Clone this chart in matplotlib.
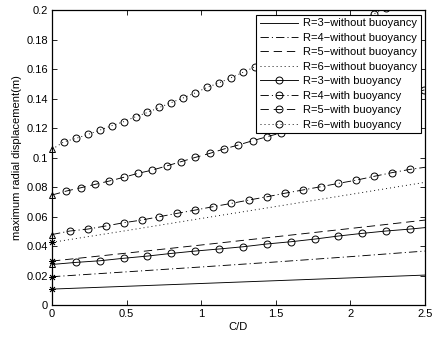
import matplotlib
matplotlib.use('Agg')
import matplotlib.pyplot as plt

plt.rcParams['font.family'] = ['Liberation Sans', 'DejaVu Sans']
plt.rcParams['font.size'] = 8
plt.rcParams['lines.scale_dashes'] = False

# without buoyancy (straight lines, asterisk at C/D = 0)
x_wo = [0, 0.5, 1.0, 1.5, 2.0, 2.5]
r3_wo = [0.0108, 0.0127, 0.0146, 0.0165, 0.0184, 0.0203]
r4_wo = [0.0192, 0.0225, 0.0258, 0.0292, 0.0328, 0.0366]
r5_wo = [0.0298, 0.0352, 0.0407, 0.0463, 0.0519, 0.0576]
r6_wo = [0.0425, 0.0505, 0.0587, 0.0668, 0.0750, 0.0832]

# with buoyancy (circles at computed points, triangle at C/D = 0)
x_r3 = [0, 0.16, 0.32, 0.48, 0.64, 0.80, 0.96, 1.12, 1.28, 1.44, 1.60,
        1.76, 1.92, 2.08, 2.24, 2.40, 2.50]
r3_w = [0.0275, 0.0289, 0.0300, 0.0317, 0.0332, 0.0350, 0.0366, 0.0380,
        0.0395, 0.0414, 0.0429, 0.0447, 0.0468, 0.0486, 0.0502, 0.0515, 0.0525]

x_r4 = [0, 0.12, 0.24, 0.36, 0.48, 0.60, 0.72, 0.84, 0.96, 1.08, 1.20,
        1.32, 1.44, 1.56, 1.68, 1.80, 1.92, 2.04, 2.16, 2.28, 2.40, 2.50]
r4_w = [0.0478, 0.0502, 0.0515, 0.0536, 0.0558, 0.0576, 0.0599, 0.0622,
        0.0644, 0.0667, 0.0689, 0.0712, 0.0734, 0.0758, 0.0780, 0.0802,
        0.0825, 0.0847, 0.0873, 0.0898, 0.0920, 0.0934]

x_r5 = [0, 0.096, 0.192, 0.288, 0.384, 0.480, 0.576, 0.672, 0.768, 0.864,
        0.960, 1.056, 1.152, 1.248, 1.344, 1.440, 1.536, 1.632, 1.728,
        1.824, 1.920, 2.016, 2.112, 2.208, 2.304, 2.400, 2.496]
r5_w = [0.0746, 0.0773, 0.0795, 0.0818, 0.0841, 0.0866, 0.0893, 0.0915,
        0.0943, 0.0972, 0.1001, 0.1028, 0.1058, 0.1085, 0.1114, 0.1141,
        0.1168, 0.1196, 0.1224, 0.1252, 0.1281, 0.1310, 0.1339, 0.1369,
        0.1399, 0.1429, 0.1459]

x_r6 = [0, 0.08, 0.16, 0.24, 0.32, 0.40, 0.48, 0.56, 0.64, 0.72, 0.80,
        0.88, 0.96, 1.04, 1.12, 1.20, 1.28, 1.36, 1.44, 1.52, 1.60, 1.68,
        1.76, 1.84, 1.92, 2.00, 2.08, 2.16, 2.24, 2.32, 2.40, 2.48]
r6_w = [0.1056, 0.1107, 0.1130, 0.1157, 0.1186, 0.1216, 0.1243, 0.1277,
        0.1306, 0.1340, 0.1373, 0.1405, 0.1439, 0.1476, 0.1507, 0.1541,
        0.1578, 0.1616, 0.1652, 0.1688, 0.1724, 0.1760, 0.1796, 0.1832,
        0.1868, 0.1904, 0.1940, 0.1976, 0.2012, 0.2048, 0.2084, 0.2120]

labels = ['R=3\u2212without buoyancy', 'R=4\u2212without buoyancy',
          'R=5\u2212without buoyancy', 'R=6\u2212without buoyancy',
          'R=3\u2212with buoyancy', 'R=4\u2212with buoyancy',
          'R=5\u2212with buoyancy', 'R=6\u2212with buoyancy']

SOLID = '-'
DASHDOT = (0, (6, 2.2, 0.8, 2.2))
DASHED = (0, (6, 3.5))
DOTTED = (0, (0.7, 2.2))
lw = 0.65
mk = dict(marker='o', ms=5, mfc='none', mec='k', mew=0.7)

fig = plt.figure(figsize=(4.37, 3.38), dpi=100)
ax = fig.add_axes([0.119, 0.0976, 0.8535, 0.8724])

ax.plot(x_wo, r3_wo, color='k', ls=SOLID, lw=lw, label=labels[0])
ax.plot(x_wo, r4_wo, color='k', ls=DASHDOT, lw=lw, label=labels[1])
ax.plot(x_wo, r5_wo, color='k', ls=DASHED, lw=lw, label=labels[2])
ax.plot(x_wo, r6_wo, color='k', ls=DOTTED, lw=lw, label=labels[3])

ax.plot(x_r3, r3_w, color='k', ls=SOLID, lw=lw, markevery=slice(1, -1),
        label=labels[4], **mk)
ax.plot(x_r4, r4_w, color='k', ls=DASHDOT, lw=lw, markevery=slice(1, -1),
        label=labels[5], **mk)
ax.plot(x_r5, r5_w, color='k', ls=DASHED, lw=lw, markevery=slice(1, None),
        label=labels[6], **mk)
ax.plot(x_r6, r6_w, color='k', ls=DOTTED, lw=lw, markevery=slice(1, None),
        label=labels[7], **mk)

# start markers at C/D = 0
for y0 in [r3_wo[0], r4_wo[0], r5_wo[0], r6_wo[0]]:
    ax.plot([0], [y0], ls='none', marker=(8, 2, 0), ms=5, mec='k', mew=0.6,
            clip_on=False)
for y0 in [r3_w[0], r4_w[0], r5_w[0], r6_w[0]]:
    ax.plot([0], [y0], ls='none', marker='^', ms=5, mfc='none', mec='k',
            mew=0.7, clip_on=False)

ax.set_xlim(0, 2.5)
ax.set_ylim(0, 0.2)
ax.set_xticks([0, 0.5, 1, 1.5, 2, 2.5])
ax.set_xticklabels(['0', '0.5', '1', '1.5', '2', '2.5'])
ax.set_yticks([0, 0.02, 0.04, 0.06, 0.08, 0.1, 0.12, 0.14, 0.16, 0.18, 0.2])
ax.set_yticklabels(['0', '0.02', '0.04', '0.06', '0.08', '0.1', '0.12',
                    '0.14', '0.16', '0.18', '0.2'])
ax.tick_params(direction='in', top=True, right=True, length=3.5, width=0.6,
               labelsize=8, pad=3)
for s in ax.spines.values():
    s.set_linewidth(0.9)

ax.set_xlabel('C/D', fontsize=8, labelpad=2)
ax.set_ylabel('maximum radial displacement(m)', fontsize=8, labelpad=3)

leg = ax.legend(loc='upper right', fontsize=8, frameon=True, fancybox=False,
                edgecolor='k', framealpha=1, borderaxespad=0.4,
                handlelength=3.4, handletextpad=0.45, labelspacing=0.4,
                borderpad=0.35)
leg.get_frame().set_linewidth(0.8)

fig.savefig('out.png', dpi=100)
